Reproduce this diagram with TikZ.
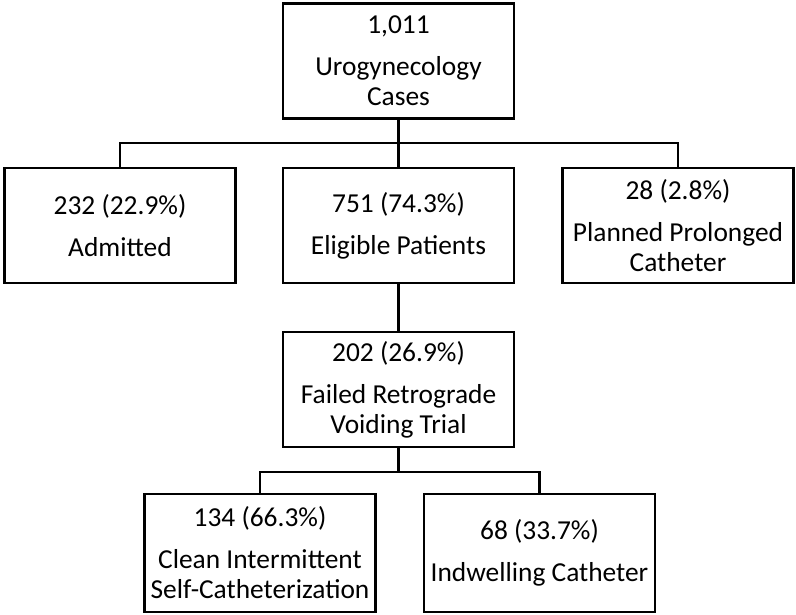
\documentclass[tikz,border=0pt]{standalone}
\usepackage{fontspec}
\setmainfont{Carlito}
\usetikzlibrary{positioning}

\begin{document}
\begin{tikzpicture}[x=1pt, y=-1pt,
    box/.style={draw, line width=2.5pt, minimum width=231pt, minimum height=115pt,
      inner sep=0pt, align=center, font=\fontsize{27.4}{30}\selectfont},
    link/.style={line width=2.5pt}]
  \useasboundingbox (0,0) rectangle (796,614);

  % top level
  \node[box] (cases) at (398.5,61) {1,011\\[12pt]Urogynecology\\Cases};
  \coordinate (split) at (398.5,143);

  % second level
  \node[box] (admitted) at (120,225.5) {232 (22.9\%)\\[12pt]Admitted};
  \node[box] (eligible) at (398.5,225.5) {751 (74.3\%)\\[12pt]Eligible Patients};
  \node[box] (planned) at (678,225.5) {28 (2.8\%)\\[12pt]Planned Prolonged\\Catheter};

  % failed trial
  \node[box] (failed) at (398.5,389.5) {202 (26.9\%)\\[12pt]Failed Retrograde\\Voiding Trial};
  \coordinate (subsplit) at (398.5,472);

  % third level
  \node[box, minimum height=118pt] (clean) at (260,553) {134 (66.3\%)\\[12pt]Clean Intermittent\\Self-Catheterization};
  \node[box, minimum height=118pt] (indwelling) at (539.5,553) {68 (33.7\%)\\[12pt]Indwelling Catheter};

  \draw[link] (cases.south) -- (split);
  \draw[link] (admitted.north) |- (split) -| (planned.north);
  \draw[link] (split) -- (eligible.north);
  \draw[link] (eligible.south) -- (failed.north);
  \draw[link] (failed.south) -- (subsplit);
  \draw[link] (clean.north) |- (subsplit) -| (indwelling.north);
\end{tikzpicture}
\end{document}
